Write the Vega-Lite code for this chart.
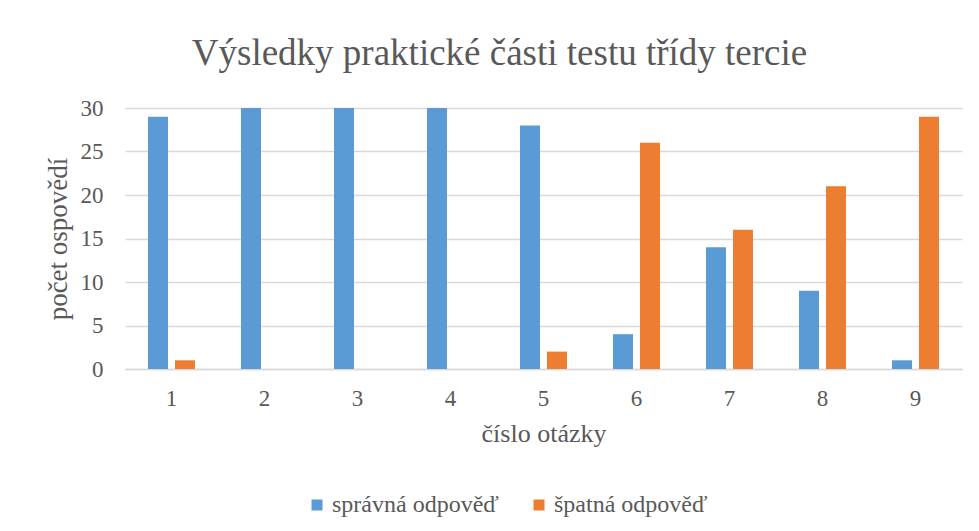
{
  "$schema": "https://vega.github.io/schema/vega-lite/v6.json",
  "autosize": "none",
  "width": 837,
  "height": 261,
  "padding": {"left": 125, "top": 108, "right": 17, "bottom": 162},
  "background": "white",
  "title": {
    "text": "Výsledky praktické části testu třídy tercie",
    "font": "Liberation Serif",
    "fontSize": 37,
    "fontWeight": "normal",
    "color": "#595959",
    "anchor": "middle",
    "frame": "group",
    "dx": -44,
    "offset": 24
  },
  "data": {
    "values": [
      {"otazka": "1", "typ": "správná odpověď", "pocet": 29},
      {"otazka": "1", "typ": "špatná odpověď", "pocet": 1},
      {"otazka": "2", "typ": "správná odpověď", "pocet": 30},
      {"otazka": "2", "typ": "špatná odpověď", "pocet": 0},
      {"otazka": "3", "typ": "správná odpověď", "pocet": 30},
      {"otazka": "3", "typ": "špatná odpověď", "pocet": 0},
      {"otazka": "4", "typ": "správná odpověď", "pocet": 30},
      {"otazka": "4", "typ": "špatná odpověď", "pocet": 0},
      {"otazka": "5", "typ": "správná odpověď", "pocet": 28},
      {"otazka": "5", "typ": "špatná odpověď", "pocet": 2},
      {"otazka": "6", "typ": "správná odpověď", "pocet": 4},
      {"otazka": "6", "typ": "špatná odpověď", "pocet": 26},
      {"otazka": "7", "typ": "správná odpověď", "pocet": 14},
      {"otazka": "7", "typ": "špatná odpověď", "pocet": 16},
      {"otazka": "8", "typ": "správná odpověď", "pocet": 9},
      {"otazka": "8", "typ": "špatná odpověď", "pocet": 21},
      {"otazka": "9", "typ": "správná odpověď", "pocet": 1},
      {"otazka": "9", "typ": "špatná odpověď", "pocet": 29}
    ]
  },
  "mark": {"type": "bar"},
  "encoding": {
    "x": {
      "field": "otazka",
      "type": "ordinal",
      "scale": {"paddingInner": 0, "paddingOuter": 0},
      "axis": {
        "title": "číslo otázky",
        "labelAngle": 0,
        "ticks": false,
        "domainColor": "#d9d9d9",
        "domainWidth": 1.3,
        "labelPadding": 18,
        "titlePadding": 10,
        "titleFontSize": 26
      }
    },
    "xOffset": {
      "field": "typ",
      "type": "nominal",
      "scale": {"paddingInner": 0.26, "paddingOuter": 0.852}
    },
    "y": {
      "field": "pocet",
      "type": "quantitative",
      "scale": {"domain": [0, 30]},
      "axis": {
        "title": "počet ospovědí",
        "values": [0, 5, 10, 15, 20, 25, 30],
        "ticks": false,
        "domain": false,
        "labelPadding": 22,
        "titlePadding": 8
      }
    },
    "color": {
      "field": "typ",
      "type": "nominal",
      "scale": {"domain": ["správná odpověď", "špatná odpověď"], "range": ["#5B9BD5", "#ED7D31"]},
      "legend": {
        "title": null,
        "orient": "none",
        "legendX": 180,
        "legendY": 385,
        "direction": "horizontal",
        "symbolType": "square",
        "symbolSize": 121,
        "symbolStrokeWidth": 0,
        "labelOffset": 3,
        "labelLimit": 400,
        "columnPadding": 28,
        "labelFont": "Liberation Serif",
        "labelFontSize": 24,
        "labelColor": "#595959"
      }
    }
  },
  "config": {
    "font": "Liberation Serif",
    "view": {"stroke": null},
    "axis": {
      "labelFont": "Liberation Serif",
      "labelFontSize": 23,
      "labelColor": "#595959",
      "titleFont": "Liberation Serif",
      "titleFontSize": 27,
      "titleFontWeight": "normal",
      "titleColor": "#595959",
      "gridColor": "#d9d9d9",
      "gridWidth": 1.3
    },
    "axisX": {"grid": false}
  }
}
